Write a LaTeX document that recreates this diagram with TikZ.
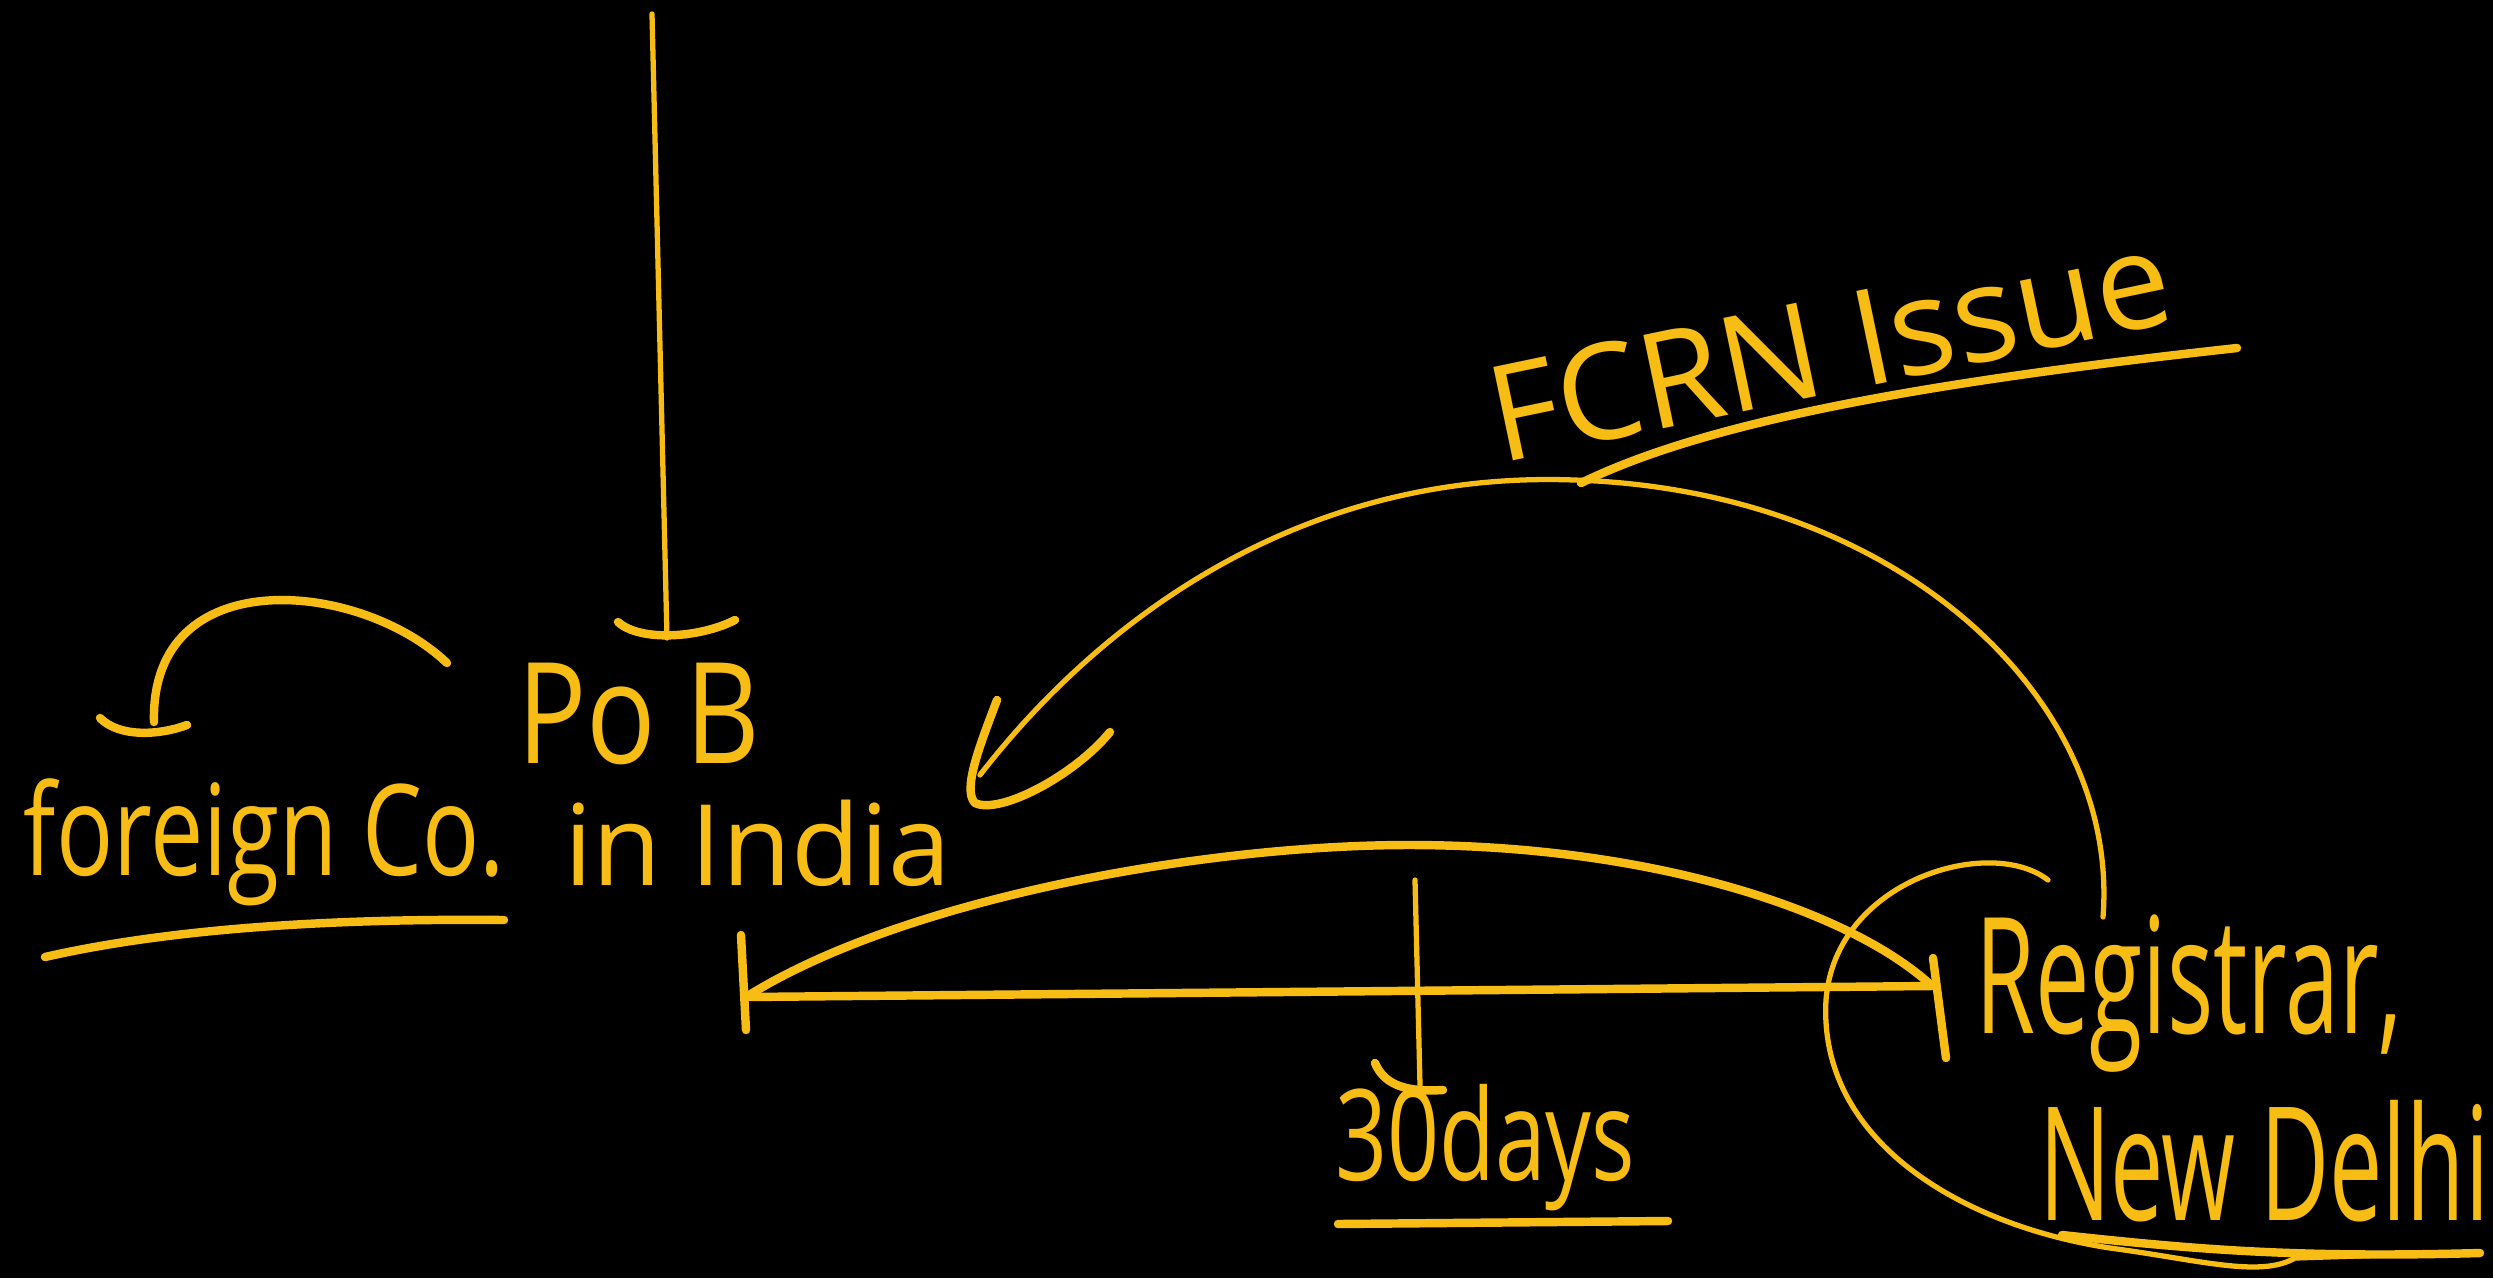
\documentclass[tikz,border=0pt]{standalone}
\usepackage{fontspec}
\setmainfont{Open Sans}
\definecolor{inkcol}{RGB}{248,189,20}
\newcommand\hwsize[1]{\fontsize{#1}{#1}\selectfont}
\begin{document}
\begin{tikzpicture}[x={(0.01cm,0)},y={(0,-0.01cm)},
  inkline/.style={draw=inkcol, line cap=round, line join=round},
  thickink/.style={inkline, line width=2.4pt},
  thinink/.style={inkline, line width=1.5pt},
  lbl/.style={text=inkcol, inner sep=0pt, outer sep=0pt, anchor=base west}]
\fill[black] (0,0) rectangle (2493,1278);
\useasboundingbox (0,0) rectangle (2493,1278);

% stem down to PoB
\coordinate (stemtop) at (652,14);
\coordinate (stembot) at (667,638);
\draw[thinink] (stemtop) -- (stembot);
\draw[thickink] (618,622) .. controls (640,642) and (700,638) .. (735,620);

% labels
\node[lbl] (pob) at (517,763) {\hwsize{40}\scalebox{0.82}[1]{Po B}};
\node[lbl] (india) at (564,885) {\hwsize{32}in India};
\node[lbl] (foreign) at (24,875) {\hwsize{36}\scalebox{0.75}[1]{foreign Co.}};
\node[lbl] (days) at (1335,1180) {\hwsize{36}\scalebox{0.72}[1]{30days}};
\node[lbl] (reg) at (1975,1033) {\hwsize{46}\scalebox{0.6}[1]{Registrar,}};
\node[lbl] (delhi) at (2039,1220) {\hwsize{45}\scalebox{0.6}[1]{New Delhi}};
\node[lbl, rotate=11.8] (fcrn) at (1500,463) {\hwsize{38}FCRN Issue};

% arc from PoB to foreign Co.
\coordinate (fstart) at (447,663);
\coordinate (fend) at (154,722);
\draw[thickink] (fstart) .. controls (360,580) and (150,560) .. (fend);
\draw[thickink] (100,718) .. controls (120,738) and (160,735) .. (187,725);
% underline foreign Co.
\draw[thickink] (45,957) .. controls (150,933) and (300,918) .. (504,920);

% horizontal timeline
\coordinate (hl) at (746,997);
\coordinate (hr) at (1932,986);
\coordinate (peak) at (1409,845);
\draw[thickink] (hl) -- (hr);
\draw[thickink] (741,935) -- (746,1030);
\draw[thickink] (1933,958) -- (1946,1058);
% arc above the timeline
\draw[thickink] (hl) .. controls (900,900) and (1200,845) .. (peak)
                     .. controls (1650,845) and (1850,910) .. (hr);

% 30 days marker
\draw[thinink] (1415,880) -- (1420,1085);
\draw[thickink] (1375,1063) .. controls (1385,1087) and (1410,1092) .. (1443,1090);
\draw[thickink] (1338,1224) -- (1668,1221);

% FCRN arc back to PoB
\coordinate (rstart) at (2103,917);
\coordinate (top) at (1574,480);
\coordinate (shaftend) at (980,775);
\draw[thinink] (rstart) .. controls (2120,700) and (1900,490) .. (top)
                        .. controls (1300,470) and (1100,620) .. (shaftend);
\draw[thickink] (997,700) .. controls (980,745) and (962,790) .. (975,803)
                .. controls (1000,815) and (1075,775) .. (1110,732);
% FCRN underline
\draw[thickink] (1581,483) .. controls (1700,425) and (1900,385) .. (2237,348);

% loop round Registrar
\draw[thinink] (2048,880) .. controls (1990,835) and (1835,880) .. (1826,1000)
               .. controls (1818,1140) and (1960,1225) .. (2110,1248)
               .. controls (2200,1260) and (2260,1278) .. (2295,1258) -- (2480,1252);
\draw[thickink] (2062,1235) .. controls (2200,1250) and (2300,1258) .. (2480,1253);
\end{tikzpicture}
\end{document}
